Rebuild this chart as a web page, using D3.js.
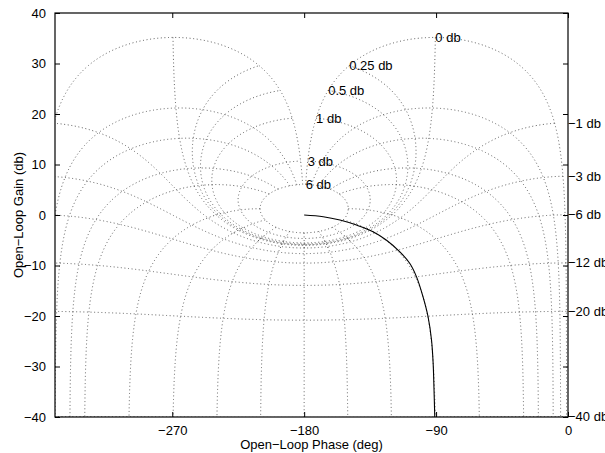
<!DOCTYPE html>
<html>
<head>
<meta charset="utf-8">
<script src="https://cdn.jsdelivr.net/npm/d3@7"></script>
<style>
  body { margin: 0; background: #fff; }
  svg text { font-family: "Liberation Sans", Arial, Helvetica, sans-serif; font-size: 13px; fill: #000; }
  .grid path { fill: none; stroke: #333; stroke-width: 0.8; stroke-dasharray: 1 2.6; }
  .response { fill: none; stroke: #000; stroke-width: 1.1; }
  .frame { fill: none; stroke: #000; stroke-width: 1.2; }
  .tick line { stroke: #000; stroke-width: 1; }
</style>
</head>
<body>
<div id="chart"></div>
<script>
// closed-loop levels of the Nichols grid
var closedLoopGains = [6, 3, 1, 0.5, 0.25, 0, -1, -3, -6, -12, -20, -40];
var closedLoopPhases = [-1, -5, -10, -20, -30, -60, -90, -120, -150, -180,
  -210, -240, -270, -300, -330, -340, -350, -355, -359];
var gainLabels = ["6 db", "3 db", "1 db", "0.5 db", "0.25 db", "0 db",
  "\u22121 db", "\u22123 db", "\u22126 db", "\u221212 db", "\u221220 db", "\u221240 db"];

var phaseTicks = [-270, -180, -90, 0];
var gainTicks = [-40, -30, -20, -10, 0, 10, 20, 30, 40];

// open-loop response
var responsePhase = [-180, -167.0, -155.6, -144.3, -133.0, -123.8, -114.7, -107.9,
  -103.4, -98.9, -95.5, -93.1, -92.0, -91.4, -90.9];
var responseGain = [0, -0.34, -1.0, -2.0, -3.3, -5.0, -7.3, -9.6,
  -12.2, -16.2, -20.1, -24.8, -29.4, -34.7, -40];

var width = 605, height = 453;
var margins = { top: 13, right: 37, bottom: 36, left: 55 };
var chartWidth = width - margins.left - margins.right;
var chartHeight = height - margins.top - margins.bottom;

var xScale = d3.scaleLinear().domain([-350, 0]).range([0, chartWidth]);
var yScale = d3.scaleLinear().domain([-40, 40]).range([chartHeight, 0]);

// closed loop T = m e^(j theta) -> open loop G = T / (1 - T)
var toOpenLoop = function(mDb, thetaDeg) {
  var m = Math.pow(10, mDb / 20);
  var t = thetaDeg * Math.PI / 180;
  var tr = m * Math.cos(t), ti = m * Math.sin(t);
  var dr = 1 - tr, di = -ti;
  var den = dr * dr + di * di;
  var gr = (tr * dr + ti * di) / den;
  var gi = (ti * dr - tr * di) / den;
  var ph = Math.atan2(gi, gr) * 180 / Math.PI;
  ph = ((ph % 360) + 360) % 360 - 360;
  return { phase: ph, gain: 10 * Math.log10(gr * gr + gi * gi) };
};

var svg = d3.select("#chart").append("svg")
  .attr("width", width)
  .attr("height", height);

svg.append("defs").append("clipPath")
  .attr("id", "plot-clip")
  .append("rect")
  .attr("width", chartWidth)
  .attr("height", chartHeight);

var chartElement = svg.append("g")
  .attr("transform", "translate(" + margins.left + "," + margins.top + ")");

var line = d3.line()
  .x(function(d) { return xScale(d.phase); })
  .y(function(d) { return yScale(d.gain); });

var grid = chartElement.append("g")
  .attr("class", "grid")
  .attr("clip-path", "url(#plot-clip)");

// constant closed-loop gain contours
var thetaSweep = d3.range(-1, -359.001, -0.1);
closedLoopGains.forEach(function(g) {
  grid.append("path")
    .attr("d", line(thetaSweep.map(function(t) { return toOpenLoop(g, t); })));
});

// constant closed-loop phase contours
var gainSweep = [];
for (var g = 6; g >= -40; g -= (Math.abs(g) < 1.5 ? 0.002 : 0.05)) gainSweep.push(g);
gainSweep.push(-40);
closedLoopPhases.forEach(function(t) {
  grid.append("path")
    .attr("d", line(gainSweep.map(function(g) { return toOpenLoop(g, t); })));
});

// contour labels
closedLoopGains.forEach(function(g, i) {
  var p = toOpenLoop(g, -1);
  var x = g > 0 || g === 0 ? xScale(p.phase) : xScale(0);
  chartElement.append("text")
    .attr("x", x)
    .attr("y", yScale(p.gain))
    .attr("dy", "0.35em")
    .text(gainLabels[i]);
});

// response curve
chartElement.append("path")
  .attr("class", "response")
  .attr("clip-path", "url(#plot-clip)")
  .attr("d", d3.line()
    .x(function(d, i) { return xScale(responsePhase[i]); })
    .y(function(d, i) { return yScale(responseGain[i]); })
    .curve(d3.curveCatmullRom.alpha(0.5))(responsePhase));

// axes (ticks inside on all four sides)
var tickLen = 5;
chartElement.append("g")
  .attr("transform", "translate(0," + chartHeight + ")")
  .call(d3.axisBottom(xScale).tickValues(phaseTicks).tickSize(-tickLen).tickPadding(9)
    .tickFormat(function(d) { return d < 0 ? "\u2212" + Math.abs(d) : d; }))
  .call(function(a) { a.select(".domain").remove(); a.selectAll("text").attr("font-size", null).attr("font-family", null); });

chartElement.append("g")
  .call(d3.axisTop(xScale).tickValues(phaseTicks).tickSize(-tickLen).tickFormat(""))
  .call(function(a) { a.select(".domain").remove(); });

chartElement.append("g")
  .call(d3.axisLeft(yScale).tickValues(gainTicks).tickSize(-tickLen).tickPadding(9)
    .tickFormat(function(d) { return d < 0 ? "\u2212" + Math.abs(d) : d; }))
  .call(function(a) { a.select(".domain").remove(); a.selectAll("text").attr("font-size", null).attr("font-family", null); });

chartElement.append("g")
  .attr("transform", "translate(" + chartWidth + ",0)")
  .call(d3.axisRight(yScale).tickValues(gainTicks).tickSize(-tickLen).tickFormat(""))
  .call(function(a) { a.select(".domain").remove(); });

chartElement.append("rect")
  .attr("class", "frame")
  .attr("width", chartWidth)
  .attr("height", chartHeight);

svg.append("text")
  .attr("x", margins.left + chartWidth / 2)
  .attr("y", 449)
  .attr("text-anchor", "middle")
  .text("Open\u2212Loop Phase (deg)");

svg.append("text")
  .attr("transform", "translate(23," + (margins.top + chartHeight / 2) + ") rotate(-90)")
  .attr("text-anchor", "middle")
  .text("Open\u2212Loop Gain (db)");
</script>
</body>
</html>
